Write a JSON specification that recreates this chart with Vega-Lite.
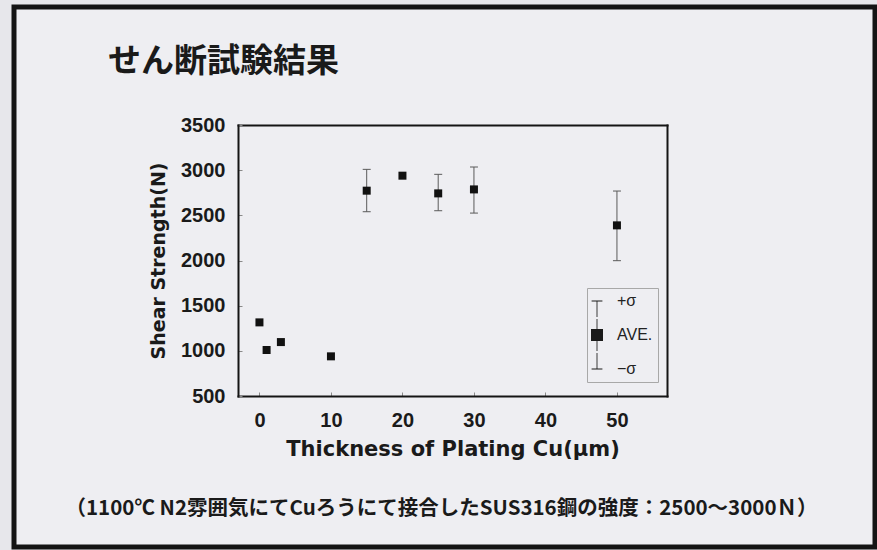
{
  "$schema": "https://vega.github.io/schema/vega-lite/v6.json",
  "width": 861,
  "height": 540,
  "autosize": {"type": "none"},
  "padding": {"left": 14, "top": 7, "right": 2, "bottom": 3},
  "background": "#e7e7eb",
  "title": {
    "text": "せん断試験結果",
    "orient": "top",
    "anchor": "start",
    "frame": "group",
    "dx": 94,
    "offset": -72,
    "font": "Noto Sans CJK JP",
    "fontSize": 33,
    "fontWeight": "bold",
    "color": "#1a1a1a"
  },
  "config": {
    "view": {"fill": "#eeeef2", "stroke": "#141414", "strokeWidth": 5},
    "axis": {"grid": false, "domainCap": "square"}
  },
  "datasets": {
    "shear": [
      {"t": 0, "ave": 1315, "lo": null, "hi": null},
      {"t": 1, "ave": 1009, "lo": null, "hi": null},
      {"t": 3, "ave": 1097, "lo": null, "hi": null},
      {"t": 10, "ave": 939, "lo": null, "hi": null},
      {"t": 15, "ave": 2773, "lo": 2540, "hi": 3009},
      {"t": 20, "ave": 2939, "lo": null, "hi": null},
      {"t": 25, "ave": 2743, "lo": 2551, "hi": 2954},
      {"t": 30, "ave": 2787, "lo": 2525, "hi": 3035},
      {"t": 50, "ave": 2389, "lo": 1998, "hi": 2769}
    ]
  },
  "data": {"name": "shear"},
  "layer": [
    {
      "transform": [{"filter": "isValid(datum.lo)"}],
      "mark": {"type": "rule", "color": "#5a5a5a", "strokeWidth": 1},
      "encoding": {
        "x": {
          "field": "t", "type": "quantitative",
          "scale": {"domain": [-3, 57], "range": [224, 653], "nice": false, "zero": false},
          "axis": {
            "orient": "top", "offset": -118,
            "domainColor": "#141414", "domainWidth": 2,
            "ticks": false, "labels": false,
            "title": "（1100℃ N2雰囲気にてCuろうにて接合したSUS316鋼の強度：2500～3000Ｎ）",
            "titleX": 427, "titleY": 383, "titleAngle": 0,
            "titleAlign": "center", "titleBaseline": "middle",
            "titleFont": "Noto Sans CJK JP", "titleFontSize": 20.5, "titleFontWeight": "bold",
            "titleColor": "#1a1a1a"
          }
        },
        "y": {
          "field": "lo", "type": "quantitative",
          "scale": {"domain": [500, 3500], "range": [389, 118], "nice": false, "zero": false},
          "axis": {
            "orient": "right", "offset": -208,
            "domainColor": "#141414", "domainWidth": 2,
            "ticks": false, "labels": false, "title": null
          }
        },
        "y2": {"field": "hi"}
      }
    },
    {
      "transform": [{"filter": "isValid(datum.lo)"}],
      "mark": {"type": "tick", "orient": "horizontal", "size": 8, "thickness": 1, "color": "#5a5a5a", "opacity": 1},
      "encoding": {
        "x": {"field": "t", "type": "quantitative", "scale": {"domain": [-3, 57], "range": [224, 653], "nice": false, "zero": false}, "axis": null},
        "y": {"field": "hi", "type": "quantitative", "scale": {"domain": [500, 3500], "range": [389, 118], "nice": false, "zero": false}, "axis": null}
      }
    },
    {
      "transform": [{"filter": "isValid(datum.lo)"}],
      "mark": {"type": "tick", "orient": "horizontal", "size": 8, "thickness": 1, "color": "#5a5a5a", "opacity": 1},
      "encoding": {
        "x": {"field": "t", "type": "quantitative", "scale": {"domain": [-3, 57], "range": [224, 653], "nice": false, "zero": false}, "axis": null},
        "y": {"field": "lo", "type": "quantitative", "scale": {"domain": [500, 3500], "range": [389, 118], "nice": false, "zero": false}, "axis": null}
      }
    },
    {
      "mark": {"type": "point", "shape": "square", "filled": true, "size": 64, "opacity": 1, "color": "#111111"},
      "encoding": {
        "x": {
          "field": "t", "type": "quantitative",
          "scale": {"domain": [-3, 57], "range": [224, 653], "nice": false, "zero": false},
          "axis": {
            "orient": "bottom", "offset": -151,
            "values": [0, 10, 20, 30, 40, 50],
            "domainColor": "#141414", "domainWidth": 2,
            "tickColor": "#8a8a8a", "tickSize": -4, "tickWidth": 1,
            "labelFont": "Liberation Sans", "labelFontSize": 20, "labelFontWeight": "bold",
            "labelColor": "#1a1a1a", "labelPadding": 18,
            "title": "Thickness of Plating Cu(μm)",
            "titleFont": "DejaVu Sans", "titleFontSize": 21, "titleFontWeight": "bold",
            "titleColor": "#1a1a1a", "titlePadding": 8
          }
        },
        "y": {
          "field": "ave", "type": "quantitative",
          "scale": {"domain": [500, 3500], "range": [389, 118], "nice": false, "zero": false},
          "axis": {
            "orient": "left", "offset": -224,
            "values": [500, 1000, 1500, 2000, 2500, 3000, 3500],
            "format": "d",
            "domainColor": "#141414", "domainWidth": 2,
            "tickColor": "#8a8a8a", "tickSize": -4, "tickWidth": 1,
            "labelFont": "Liberation Sans", "labelFontSize": 20, "labelFontWeight": "bold",
            "labelColor": "#1a1a1a", "labelPadding": 17,
            "title": "Shear Strength(N)",
            "titleFont": "DejaVu Sans", "titleFontSize": 19, "titleFontWeight": "bold",
            "titleColor": "#1a1a1a", "titlePadding": 12
          }
        }
      }
    },
    {
      "transform": [{"filter": "false"}],
      "mark": {"type": "point", "filled": true, "opacity": 1, "fill": "#1a1a1a", "strokeWidth": 0},
      "encoding": {
        "x": {"field": "t", "type": "quantitative", "scale": {"domain": [-3, 57], "range": [224, 653], "nice": false, "zero": false}, "axis": null},
        "y": {"field": "ave", "type": "quantitative", "scale": {"domain": [500, 3500], "range": [389, 118], "nice": false, "zero": false}, "axis": null},
        "shape": {
          "datum": "AVE.", "type": "nominal",
          "scale": {
            "domain": ["+σ", "AVE.", "−σ"],
            "range": [
              "M-0.9,-0.07H0.9V0.07H-0.9ZM-0.07,0H0.07V2.67H-0.07Z",
              "M-1,-1H1V1H-1ZM-0.07,-2.67H0.07V2.67H-0.07Z",
              "M-0.07,-2.67H0.07V0H-0.07ZM-0.9,-0.07H0.9V0.07H-0.9Z"
            ]
          },
          "legend": {
            "orient": "none", "legendX": 573, "legendY": 281,
            "title": null,
            "padding": 5, "strokeColor": "#a8a8a8", "fillColor": "#eeeef2",
            "symbolSize": 144, "symbolStrokeWidth": 0, "symbolOffset": -3,
            "symbolFillColor": "#1a1a1a",
            "labelFont": "Liberation Sans", "labelFontSize": 16, "labelColor": "#222222",
            "labelOffset": 12, "rowPadding": 0
          }
        }
      }
    }
  ],
  "resolve": {"axis": {"x": "independent", "y": "independent"}}
}
